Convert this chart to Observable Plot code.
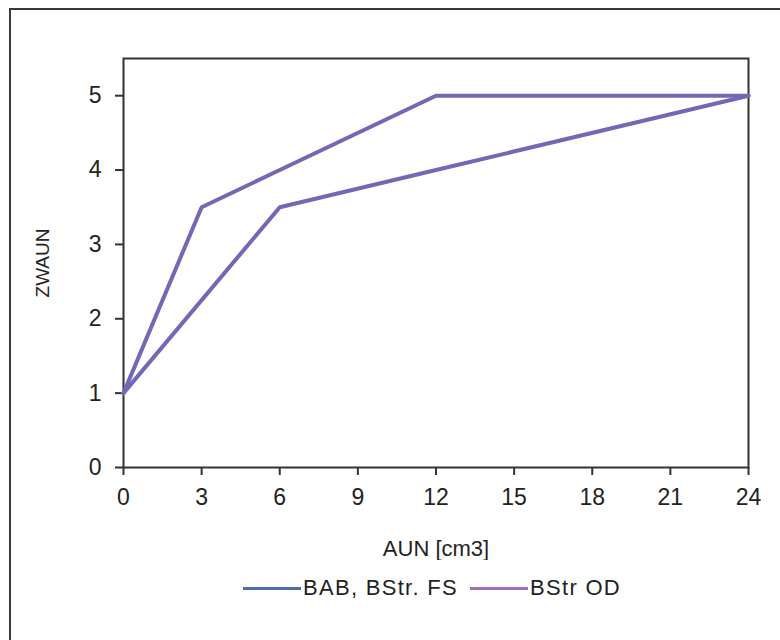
<!DOCTYPE html>
<html>
<head>
<meta charset="utf-8">
<script src="https://cdn.jsdelivr.net/npm/d3@7"></script>
<script src="https://cdn.jsdelivr.net/npm/@observablehq/plot@0.6"></script>
<style>
  html, body { margin: 0; padding: 0; background: #fff; }
  body { width: 780px; height: 640px; position: relative; overflow: hidden; font-family: "Liberation Sans", Arial, sans-serif; }
  #border { position: absolute; left: 9px; top: 8px; width: 900px; height: 800px; border-left: 2px solid #3a3a3a; border-top: 2px solid #3a3a3a; box-sizing: border-box; }
  #chart { position: absolute; left: 0; top: 0; }
  #chart svg text { fill: #222; }
  #legend { position: absolute; top: 575px; left: 243px; display: flex; align-items: center; font-size: 22px; letter-spacing: 1.3px; color: #222; white-space: nowrap; }
  .sw { display: inline-block; width: 58px; height: 3px; margin-right: 2px; }
  .item { display: flex; align-items: center; margin-right: 12px; }
</style>
</head>
<body>
<div id="border"></div>
<div id="chart"></div>
<div id="legend"></div>
<script>
const seriesNames = ["BAB, BStr. FS", "BStr OD"];
const legendColors = ["#4b6ea8", "#a46cbc"];
const lineColor = "#7168b6";

const xA = [0, 3, 6, 12, 24];
const yA = [1, 3.5, 4, 5, 5];
const xB = [0, 6, 12, 24];
const yB = [1, 3.5, 4, 5];

const xTicks = [0, 3, 6, 9, 12, 15, 18, 21, 24];
const yTicks = [0, 1, 2, 3, 4, 5];

const data = [
  ...xA.map((x, i) => ({series: seriesNames[0], x, y: yA[i]})),
  ...xB.map((x, i) => ({series: seriesNames[1], x, y: yB[i]}))
];

const chart = Plot.plot({
  width: 780,
  height: 560,
  marginLeft: 123,
  marginTop: 58,
  marginRight: 32,
  marginBottom: 93,
  style: { fontFamily: "Liberation Sans, Arial, sans-serif", fontSize: "22px", color: "#222", background: "transparent" },
  x: { domain: [0, 24] },
  y: { domain: [0, 5.5] },
  marks: [
    Plot.frame({ stroke: "#333", strokeWidth: 2 }),
    Plot.axisX({ ticks: xTicks, tickFormat: d => String(d), tickSize: 8, tickPadding: 13, stroke: "#333", strokeWidth: 2,
      fontSize: 23, label: null }),
    Plot.axisX({ ticks: [], label: "AUN [cm3]", labelAnchor: "center", labelArrow: "none", labelOffset: 88, fontSize: 22 }),
    Plot.axisY({ ticks: yTicks, tickFormat: d => String(d), tickSize: 8, tickPadding: 14, stroke: "#333", strokeWidth: 2,
      fontSize: 23, label: null }),
    Plot.axisY({ ticks: [], label: "ZWAUN", labelAnchor: "center", labelArrow: "none", labelOffset: 88, fontSize: 19 }),
    Plot.line(data, { x: "x", y: "y", z: "series", stroke: lineColor, strokeWidth: 4, strokeLinejoin: "miter" })
  ]
});
document.getElementById("chart").appendChild(chart);

const legend = document.getElementById("legend");
seriesNames.forEach((name, i) => {
  const item = document.createElement("span");
  item.className = "item";
  const sw = document.createElement("span");
  sw.className = "sw";
  sw.style.background = legendColors[i];
  item.appendChild(sw);
  item.appendChild(document.createTextNode(name));
  legend.appendChild(item);
});
</script>
</body>
</html>
